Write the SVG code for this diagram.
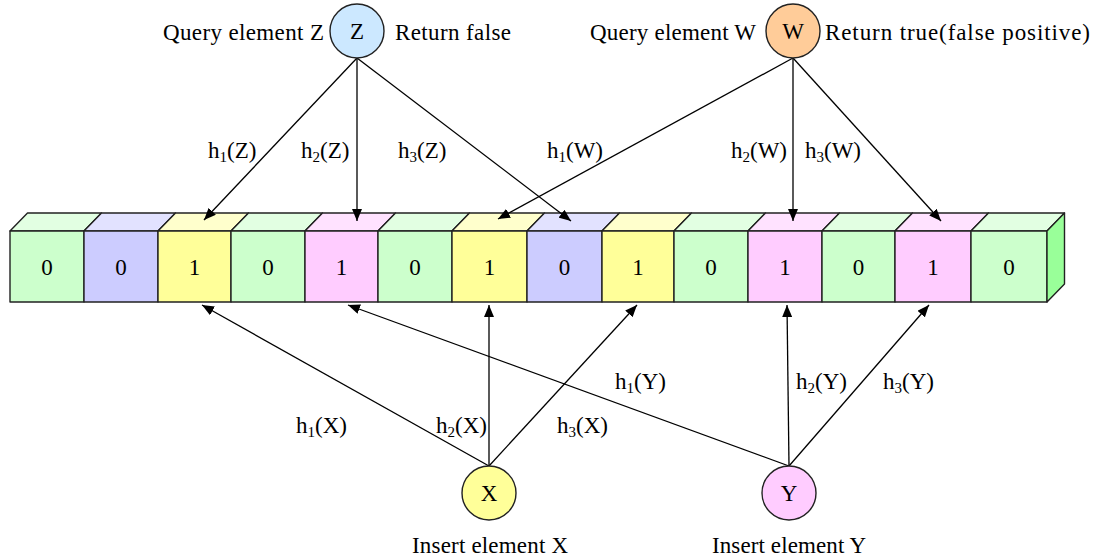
<svg xmlns="http://www.w3.org/2000/svg" width="1096" height="558" viewBox="0 0 1096 558">
  <defs>
    <marker id="arrow" viewBox="0 0 12 10" refX="12" refY="5" markerWidth="12" markerHeight="10" markerUnits="userSpaceOnUse" orient="auto">
      <path d="M0,0 L12,5 L0,10 Z" fill="#000"/>
    </marker>
    <style>
      text { font-family: "Liberation Serif", "Times New Roman", serif; font-size: 23px; fill: #000; }
      .num { text-anchor: middle; }
      .sub { font-size: 15px; }
      .cell { stroke: #222; stroke-width: 1.4; stroke-linejoin: round; }
      .node { stroke: #222; stroke-width: 1.4; }
      .edge { stroke: #000; stroke-width: 1.3; fill: none; marker-end: url(#arrow); }
      .g-front { fill: #CCFFCC; } .g-top { fill: #E2FFE2; }
      .b-front { fill: #CCCCFF; } .b-top { fill: #E2E2FF; }
      .y-front { fill: #FFFF99; } .y-top { fill: #FFFFCC; }
      .p-front { fill: #FFCCFF; } .p-top { fill: #FFE2FF; }
    </style>
  </defs>

  <rect width="1096" height="558" fill="#fff"/>

  <!-- bit array: 14 cells drawn as a 3D bar -->
  <g id="bit-array">
    <g id="cell-0"><path class="cell g-top" d="M10,231 L27.5,213 L101.5,213 L84,231 Z"/><rect class="cell g-front" x="10" y="231" width="74" height="71"/><text class="num" x="47" y="275">0</text></g>
    <g id="cell-1"><path class="cell b-top" d="M84,231 L101.5,213 L175.5,213 L158,231 Z"/><rect class="cell b-front" x="84" y="231" width="74" height="71"/><text class="num" x="121" y="275">0</text></g>
    <g id="cell-2"><path class="cell y-top" d="M158,231 L175.5,213 L248.5,213 L231,231 Z"/><rect class="cell y-front" x="158" y="231" width="73" height="71"/><text class="num" x="194.5" y="275">1</text></g>
    <g id="cell-3"><path class="cell g-top" d="M231,231 L248.5,213 L322.5,213 L305,231 Z"/><rect class="cell g-front" x="231" y="231" width="74" height="71"/><text class="num" x="268" y="275">0</text></g>
    <g id="cell-4"><path class="cell p-top" d="M305,231 L322.5,213 L395.5,213 L378,231 Z"/><rect class="cell p-front" x="305" y="231" width="73" height="71"/><text class="num" x="341.5" y="275">1</text></g>
    <g id="cell-5"><path class="cell g-top" d="M378,231 L395.5,213 L469.5,213 L452,231 Z"/><rect class="cell g-front" x="378" y="231" width="74" height="71"/><text class="num" x="415" y="275">0</text></g>
    <g id="cell-6"><path class="cell y-top" d="M452,231 L469.5,213 L544.5,213 L527,231 Z"/><rect class="cell y-front" x="452" y="231" width="75" height="71"/><text class="num" x="489.5" y="275">1</text></g>
    <g id="cell-7"><path class="cell b-top" d="M527,231 L544.5,213 L619.5,213 L602,231 Z"/><rect class="cell b-front" x="527" y="231" width="75" height="71"/><text class="num" x="564.5" y="275">0</text></g>
    <g id="cell-8"><path class="cell y-top" d="M602,231 L619.5,213 L691.5,213 L674,231 Z"/><rect class="cell y-front" x="602" y="231" width="72" height="71"/><text class="num" x="638" y="275">1</text></g>
    <g id="cell-9"><path class="cell g-top" d="M674,231 L691.5,213 L765.5,213 L748,231 Z"/><rect class="cell g-front" x="674" y="231" width="74" height="71"/><text class="num" x="711" y="275">0</text></g>
    <g id="cell-10"><path class="cell p-top" d="M748,231 L765.5,213 L839.5,213 L822,231 Z"/><rect class="cell p-front" x="748" y="231" width="74" height="71"/><text class="num" x="785" y="275">1</text></g>
    <g id="cell-11"><path class="cell g-top" d="M822,231 L839.5,213 L912.5,213 L895,231 Z"/><rect class="cell g-front" x="822" y="231" width="73" height="71"/><text class="num" x="858.5" y="275">0</text></g>
    <g id="cell-12"><path class="cell p-top" d="M895,231 L912.5,213 L988.5,213 L971,231 Z"/><rect class="cell p-front" x="895" y="231" width="76" height="71"/><text class="num" x="933" y="275">1</text></g>
    <g id="cell-13"><path class="cell g-top" d="M971,231 L988.5,213 L1064.5,213 L1047,231 Z"/><rect class="cell g-front" x="971" y="231" width="76" height="71"/><text class="num" x="1009" y="275">0</text>
      <path class="cell" fill="#99FF99" d="M1047,231 L1064.5,213 L1064.5,284 L1047,302 Z"/></g>
  </g>

  <!-- hash connectors -->
  <g id="connectors">
    <line class="edge" x1="357" y1="58" x2="204" y2="220"/>
    <line class="edge" x1="357" y1="58" x2="357" y2="221"/>
    <line class="edge" x1="357" y1="58" x2="571" y2="221"/>
    <line class="edge" x1="793" y1="58" x2="498" y2="219"/>
    <line class="edge" x1="793" y1="58" x2="793" y2="221"/>
    <line class="edge" x1="793" y1="58" x2="941" y2="221"/>
    <line class="edge" x1="489" y1="466" x2="202" y2="305"/>
    <line class="edge" x1="489" y1="466" x2="489" y2="305"/>
    <line class="edge" x1="489" y1="466" x2="637" y2="305"/>
    <line class="edge" x1="789" y1="466" x2="348" y2="305"/>
    <line class="edge" x1="789" y1="466" x2="787" y2="305"/>
    <line class="edge" x1="789" y1="466" x2="929" y2="305"/>
  </g>

  <!-- hash labels -->
  <g id="labels">
    <text x="208" y="158">h<tspan class="sub" dy="4">1</tspan><tspan dy="-4">(Z)</tspan></text>
    <text x="301" y="158">h<tspan class="sub" dy="4">2</tspan><tspan dy="-4">(Z)</tspan></text>
    <text x="398" y="158">h<tspan class="sub" dy="4">3</tspan><tspan dy="-4">(Z)</tspan></text>
    <text x="547" y="158">h<tspan class="sub" dy="4">1</tspan><tspan dy="-4">(W)</tspan></text>
    <text x="731" y="158">h<tspan class="sub" dy="4">2</tspan><tspan dy="-4">(W)</tspan></text>
    <text x="805" y="158">h<tspan class="sub" dy="4">3</tspan><tspan dy="-4">(W)</tspan></text>
    <text x="296" y="433">h<tspan class="sub" dy="4">1</tspan><tspan dy="-4">(X)</tspan></text>
    <text x="436" y="433">h<tspan class="sub" dy="4">2</tspan><tspan dy="-4">(X)</tspan></text>
    <text x="557" y="433">h<tspan class="sub" dy="4">3</tspan><tspan dy="-4">(X)</tspan></text>
    <text x="615" y="389">h<tspan class="sub" dy="4">1</tspan><tspan dy="-4">(Y)</tspan></text>
    <text x="796" y="389">h<tspan class="sub" dy="4">2</tspan><tspan dy="-4">(Y)</tspan></text>
    <text x="883" y="389">h<tspan class="sub" dy="4">3</tspan><tspan dy="-4">(Y)</tspan></text>
  </g>

  <!-- element nodes -->
  <g id="node-Z">
    <circle class="node" cx="357" cy="31" r="27" fill="#CCE8FF"/>
    <text class="num" x="357" y="39">Z</text>
    <text x="163" y="40" textLength="161">Query element Z</text>
    <text x="395" y="40" textLength="116">Return false</text>
  </g>
  <g id="node-W">
    <circle class="node" cx="793" cy="31" r="27" fill="#FFCC99"/>
    <text class="num" x="793" y="39">W</text>
    <text x="590" y="40" textLength="166">Query element W</text>
    <text x="825" y="40" textLength="265">Return true(false positive)</text>
  </g>
  <g id="node-X">
    <circle class="node" cx="489" cy="493" r="27" fill="#FFFF99"/>
    <text class="num" x="489" y="501">X</text>
    <text x="412" y="553" textLength="156">Insert element X</text>
  </g>
  <g id="node-Y">
    <circle class="node" cx="789" cy="493" r="27" fill="#FFCCFF"/>
    <text class="num" x="789" y="501">Y</text>
    <text x="712" y="553" textLength="154">Insert element Y</text>
  </g>
</svg>
